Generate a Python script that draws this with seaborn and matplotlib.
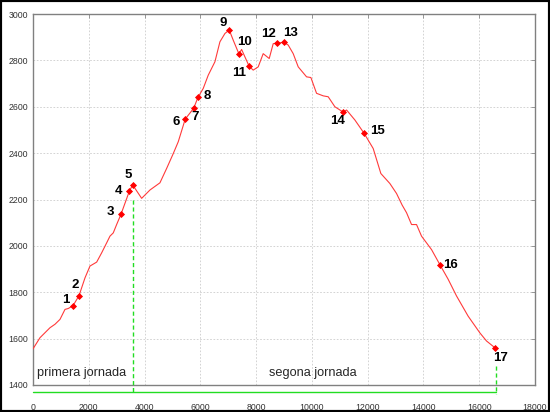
import numpy as np
import pandas as pd
import seaborn as sns
import matplotlib.pyplot as plt
from matplotlib.patches import Rectangle

# elevation profile (distance in m, altitude in m)
dist = [0, 251, 609, 789, 968, 1147, 1266, 1434, 1649, 1864, 2043, 2283, 2462,
        2641, 2760, 2878, 2999, 3154, 3452, 3573, 3896, 4194, 4552, 4792, 5029,
        5208, 5459, 5760, 5914, 6104, 6283, 6523, 6702, 6882, 7036, 7180, 7384,
        7480, 7599, 7753, 7896, 8075, 8254, 8470, 8613, 8733, 8996, 9151, 9330,
        9510, 9809, 9964, 10167, 10406, 10585, 10824, 11122, 11243, 11541, 11875,
        12198, 12473, 12796, 13035, 13236, 13394, 13573, 13752, 13931, 14290,
        14599, 14886, 15186, 15602, 16022, 16260, 16559]
alt = [1556, 1604, 1647, 1662, 1683, 1726, 1730, 1742, 1785, 1862, 1913, 1930,
       1970, 2013, 2042, 2056, 2092, 2136, 2235, 2263, 2205, 2241, 2272, 2334,
       2398, 2449, 2547, 2593, 2640, 2679, 2736, 2794, 2880, 2916, 2931, 2887,
       2828, 2847, 2815, 2774, 2758, 2772, 2829, 2808, 2872, 2874, 2878, 2866,
       2829, 2772, 2729, 2726, 2658, 2647, 2643, 2600, 2577, 2586, 2543, 2485,
       2420, 2312, 2269, 2226, 2176, 2143, 2092, 2092, 2042, 1984, 1917, 1856,
       1784, 1697, 1625, 1590, 1561]

# waypoints
wp_labels = [str(i) for i in range(1, 18)]
wp_dist = [1434, 1649, 3154, 3452, 3573, 5459, 5760, 5914, 7036, 7384, 7753,
           8733, 8996, 11122, 11875, 14599, 16559]
wp_alt = [1742, 1785, 2136, 2235, 2263, 2547, 2593, 2640, 2931, 2828, 2774,
          2874, 2878, 2577, 2485, 1917, 1561]

stage_split = 3600
stage_end = 16600
stage_names = ["primera jornada", "segona jornada"]

# label offsets in pixels
offsets = [(-7, 6), (-4, 11), (-11, 2), (-11, 0), (-4, 10), (-9, -3), (1, -9),
           (9, 1), (-6, 7), (6, 12), (-10, -7), (-8, 9), (7, 9), (-6, -9),
           (13, 2), (10, 0), (6, -10)]

sns.set_style("white")
plt.rcParams["font.family"] = ["Liberation Sans", "DejaVu Sans"]

fig = plt.figure(figsize=(5.5, 4.12), dpi=100)
ax = fig.add_axes([33 / 550, 27 / 412, 502 / 550, 371 / 412])

profile = pd.DataFrame({"dist": dist, "alt": alt})
points = pd.DataFrame({"dist": wp_dist, "alt": wp_alt})

sns.lineplot(data=profile, x="dist", y="alt", ax=ax, color="#ff3a3a",
             linewidth=0.8, zorder=3)
sns.scatterplot(data=points, x="dist", y="alt", ax=ax, color="#ff0000",
                marker="D", s=9, edgecolor="#ff0000", linewidth=0.6, zorder=4)

for lab, x, y, off in zip(wp_labels, wp_dist, wp_alt, offsets):
    ax.annotate(lab, (x, y), xytext=off, textcoords="offset pixels",
                ha="center", va="center", fontsize=9.5, fontweight="bold",
                color="black", zorder=5)

ax.set_xlim(0, 18000)
ax.set_ylim(1400, 3000)
ax.set_xticks(np.arange(0, 18001, 2000))
ax.set_yticks(np.arange(1400, 3001, 200))
ax.set_xlabel("")
ax.set_ylabel("")
ax.grid(True, color="#cccccc", linestyle=(0, (2, 2)), linewidth=0.6)
ax.tick_params(direction="in", length=3, width=0.6, color="#888888",
               labelsize=6.3, labelcolor="#333333", top=True, right=True,
               labeltop=False, labelright=False)
ax.tick_params(axis="x", pad=13)
for s in ax.spines.values():
    s.set_color("#808080")
    s.set_linewidth(1.0)

# stage markers
green = "#22dd22"
ax.plot([0, stage_end], [1370, 1370], color=green, lw=1.0, clip_on=False, zorder=2)
ax.plot([stage_split, stage_split], [2200, 1360], color=green, lw=1.0,
        linestyle=(0, (3, 2)), clip_on=False, zorder=6)
ax.plot([stage_end, stage_end], [1480, 1360], color=green, lw=1.0,
        linestyle=(0, (3, 2)), clip_on=False, zorder=6)
ax.text(150, 1452, stage_names[0], fontsize=9.2, va="center", ha="left")
ax.text(8450, 1452, stage_names[1], fontsize=9.2, va="center", ha="left")

fig.patches.append(Rectangle((0, 0), 1, 1, transform=fig.transFigure,
                             fill=False, edgecolor="black", linewidth=3))

fig.savefig("out.png", dpi=100)
